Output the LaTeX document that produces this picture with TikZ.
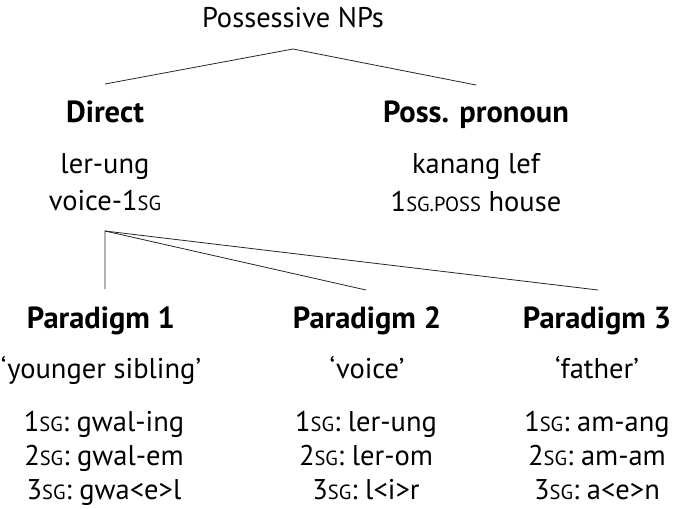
\documentclass[tikz,border=0pt]{standalone}
\usepackage{fontspec}
\setmainfont{PT Sans}
\newcommand{\gsc}[1]{{\fontsize{20.5}{24}\selectfont #1}}
\tikzset{
  txt/.style={anchor=base,inner sep=0pt,font=\fontsize{28.5}{34}\selectfont},
  hd/.style={txt,font=\fontsize{30.5}{36}\selectfont\bfseries},
  branch/.style={draw=black!85,line width=0.8pt}
}
\begin{document}
\begin{tikzpicture}[x=1pt,y=-1pt]
\useasboundingbox (0,0) rectangle (676,508);
% root
\node[txt] (root) at (293,28) {Possessive NPs};
\coordinate (rootb) at (293,49);
% level 1
\node[hd] (direct) at (105,122) {Direct};
\node[hd] (poss) at (476,122) {Poss. pronoun};
\coordinate (directt) at (105,84);
\coordinate (posst) at (476,85);
\node[txt] (ex1) at (105,173) {ler-ung};
\node[txt] (gl1) at (105,210) {voice-1\gsc{SG}};
\node[txt] (ex2) at (476,173) {kanang lef};
\node[txt] (gl2) at (476,211) {1\gsc{SG.POSS} house};
\coordinate (directb) at (105,231);
% level 2
\node[hd] (p1) at (101,328) {Paradigm 1};
\node[hd] (p2) at (367,328) {Paradigm 2};
\node[hd] (p3) at (597,328) {Paradigm 3};
\coordinate (p1t) at (105,289);
\coordinate (p2t) at (366,290);
\coordinate (p3t) at (598,290);
\node[txt] (g1) at (101,378) {`younger sibling'};
\node[txt] (g2) at (367,378) {`voice'};
\node[txt] (g3) at (597,378) {`father'};
\node[txt] (a1) at (104,431) {1\gsc{SG}: gwal-ing};
\node[txt] (b1) at (104,465) {2\gsc{SG}: gwal-em};
\node[txt] (c1) at (104,499) {3\gsc{SG}: gwa<e>l};
\node[txt] (a2) at (366,431) {1\gsc{SG}: ler-ung};
\node[txt] (b2) at (366,465) {2\gsc{SG}: ler-om};
\node[txt] (c2) at (366,499) {3\gsc{SG}: l<i>r};
\node[txt] (a3) at (597,431) {1\gsc{SG}: am-ang};
\node[txt] (b3) at (597,465) {2\gsc{SG}: am-am};
\node[txt] (c3) at (597,499) {3\gsc{SG}: a<e>n};
% branches
\draw[branch] (directt) -- (rootb) -- (posst);
\draw[branch] (p1t) -- (directb) -- (p2t);
\draw[branch] (directb) -- (p3t);
\end{tikzpicture}
\end{document}
